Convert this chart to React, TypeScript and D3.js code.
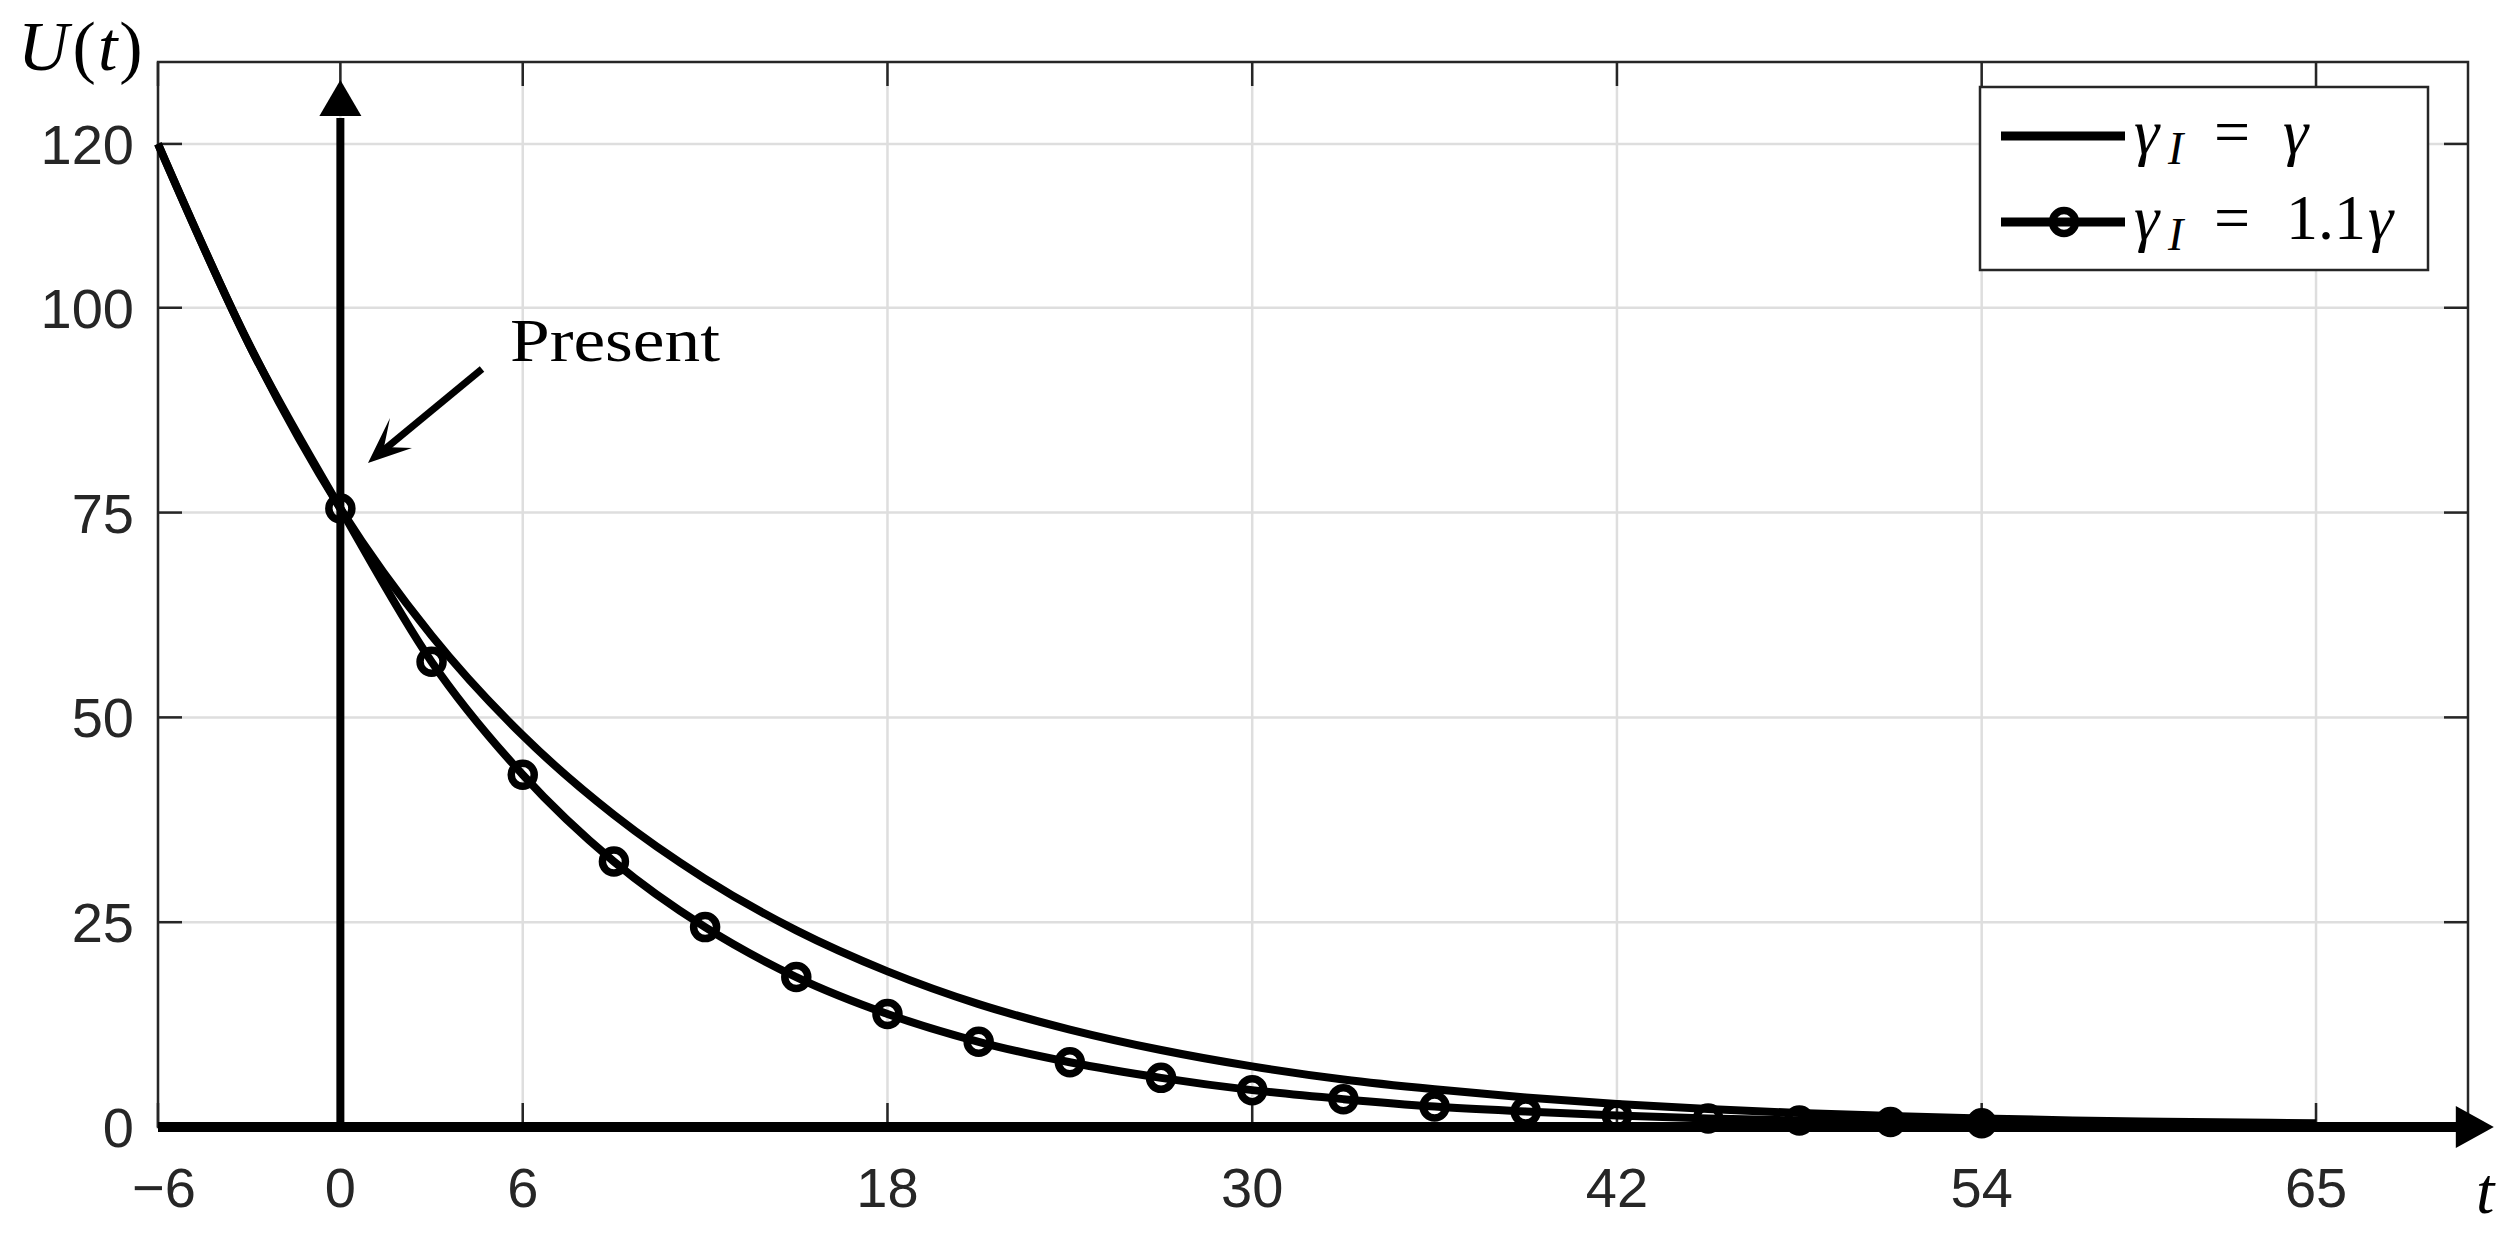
import React from "react";
import * as d3 from "d3";

const W = 2519;
const H = 1238;

// axis configuration (values)
const xDomain = [-6, 70];
const yDomain = [0, 130];
const xTicks = [-6, 0, 6, 18, 30, 42, 54, 65];
const yTicks = [0, 25, 50, 75, 100, 120];
const xTickLabels = ["\u22126", "0", "6", "18", "30", "42", "54", "65"];
const yTickLabels = ["0", "25", "50", "75", "100", "120"];

// series: gamma_I = gamma
const tUpper = [-6, -3, 0, 3, 6, 9, 12, 15, 18, 21, 24, 27, 30, 33, 36, 39, 42, 45, 48, 51, 54, 57, 60, 65];
const uUpper = [120, 95.5, 75.5, 60.0, 47.8, 38.1, 30.3, 24.0, 19.0, 15.0, 11.9, 9.4, 7.4, 5.8, 4.6, 3.6, 2.8, 2.2, 1.7, 1.35, 1.05, 0.8, 0.65, 0.45];

// series: gamma_I = 1.1 gamma
const tLower = [-6, -3, 0, 3, 6, 9, 12, 15, 18, 21, 24, 27, 30, 33, 36, 39, 42, 45, 48, 51, 54, 57, 60, 65];
const uLower = [120, 95.5, 75.5, 56.8, 43.0, 32.4, 24.4, 18.3, 13.8, 10.4, 7.9, 6.0, 4.5, 3.4, 2.5, 1.9, 1.4, 1.05, 0.8, 0.6, 0.45, 0.35, 0.25, 0.15];
const markerRange = [0, 54];

// axis arrows (data coords)
const upArrowTip = 127.8;
const upArrowBase = 123.4;
const rightArrowTip = 70.85;
const rightArrowBase = 69.6;

const AX = "#262626";
const GRID = "#dedede";

export default function App() {
  const x = d3.scaleLinear().domain(xDomain).range([158, 2468]);
  const y = d3.scaleLinear().domain(yDomain).range([1127, 62]);
  const [x0, x1] = x.range();
  const [yb, yt] = y.range();

  const line = d3
    .line<[number, number]>()
    .x((d) => x(d[0]))
    .y((d) => y(d[1]))
    .curve(d3.curveMonotoneX);

  const upper = tUpper.map((t, i) => [t, uUpper[i]] as [number, number]);
  const lower = tLower.map((t, i) => [t, uLower[i]] as [number, number]);
  const markers = lower.filter((d) => d[0] >= markerRange[0] && d[0] <= markerRange[1]);

  const tickLen = 24;
  const lw = 8;
  const legL = 1980, legT = 87, legR = 2428, legB = 270;
  const r1 = 136, r2 = 222;

  return (
    <svg
      width={W}
      height={H}
      viewBox={`0 0 ${W} ${H}`}
      style={{ position: "absolute", left: 0, top: 0, display: "block", background: "#fff" }}
    >
      <rect x={0} y={0} width={W} height={H} fill="#fff" />
      {/* grid */}
      <g stroke={GRID} strokeWidth={2.5}>
        {xTicks.map((t) => (
          <line key={"gx" + t} x1={x(t)} x2={x(t)} y1={yb} y2={yt} />
        ))}
        {yTicks.map((v) => (
          <line key={"gy" + v} x1={x0} x2={x1} y1={y(v)} y2={y(v)} />
        ))}
      </g>

      {/* frame + ticks */}
      <g stroke={AX} strokeWidth={2.5} fill="none">
        <rect x={x0} y={yt} width={x1 - x0} height={yb - yt} />
        {xTicks.map((t) => (
          <g key={"tx" + t}>
            <line x1={x(t)} x2={x(t)} y1={yb} y2={yb - tickLen} />
            <line x1={x(t)} x2={x(t)} y1={yt} y2={yt + tickLen} />
          </g>
        ))}
        {yTicks.map((v) => (
          <g key={"ty" + v}>
            <line x1={x0} x2={x0 + tickLen} y1={y(v)} y2={y(v)} />
            <line x1={x1} x2={x1 - tickLen} y1={y(v)} y2={y(v)} />
          </g>
        ))}
      </g>

      {/* tick labels */}
      <g fontFamily="'Liberation Sans', Arial, sans-serif" fontSize={56} fill={AX}>
        {xTicks.map((t, i) => (
          <text key={"lx" + t} x={x(t) + (t < 0 ? 6 : 0)} y={1207} textAnchor="middle">
            {xTickLabels[i]}
          </text>
        ))}
        {yTicks.map((v, i) => (
          <text key={"ly" + v} x={134} y={y(v) + 20} textAnchor="end">
            {yTickLabels[i]}
          </text>
        ))}
      </g>

      {/* curves */}
      <path d={line(upper) || ""} fill="none" stroke="#000" strokeWidth={lw} strokeLinejoin="round" />
      <path d={line(lower) || ""} fill="none" stroke="#000" strokeWidth={lw} strokeLinejoin="round" />
      {markers.map((d) => (
        <circle key={"m" + d[0]} cx={x(d[0])} cy={y(d[1])} r={11.5} fill="none" stroke="#000" strokeWidth={7.5} />
      ))}

      {/* axis arrows */}
      <line x1={x(0)} x2={x(0)} y1={y(0)} y2={y(upArrowBase) + 2} stroke="#000" strokeWidth={8} />
      <polygon
        points={`${x(0)},${y(upArrowTip)} ${x(0) - 21},${y(upArrowBase)} ${x(0) + 21},${y(upArrowBase)}`}
        fill="#000"
      />
      <line x1={x(-6)} x2={x(rightArrowBase) + 2} y1={y(0)} y2={y(0)} stroke="#000" strokeWidth={10} />
      <polygon
        points={`${x(rightArrowTip)},${y(0)} ${x(rightArrowBase)},${y(0) - 21} ${x(rightArrowBase)},${y(0) + 21}`}
        fill="#000"
      />

      {/* Present annotation */}
      <line x1={482} y1={369} x2={385} y2={449} stroke="#000" strokeWidth={7} />
      <polygon points="368,463 390,418 384,447 412,448" fill="#000" />
      <text
        x={510}
        y={361}
        fontFamily="'Liberation Serif', 'DejaVu Serif', serif"
        fontSize={62}
        textLength={210}
        lengthAdjust="spacingAndGlyphs"
        fill="#000"
      >
        Present
      </text>

      {/* axis labels */}
      <text x={18} y={70} fontFamily="'Liberation Serif', serif" fontSize={70} fill="#000">
        <tspan fontStyle="italic">U</tspan>
        <tspan dx={4}>(</tspan>
        <tspan fontStyle="italic" dx={2}>t</tspan>
        <tspan dx={2}>)</tspan>
      </text>
      <text x={2476} y={1213} fontFamily="'Liberation Serif', serif" fontStyle="italic" fontSize={66} fill="#000">
        t
      </text>

      {/* legend */}
      <rect x={legL} y={legT} width={legR - legL} height={legB - legT} fill="#fff" stroke={AX} strokeWidth={2.5} />
      <line x1={2001} x2={2125} y1={r1} y2={r1} stroke="#000" strokeWidth={9} />
      <line x1={2001} x2={2125} y1={r2} y2={r2} stroke="#000" strokeWidth={9} />
      <circle cx={2064} cy={r2} r={11.5} fill="none" stroke="#000" strokeWidth={7.5} />
      <g fontFamily="'Liberation Serif', serif" fontSize={64} fill="#000">
        <text x={2134} y={153} fontStyle="italic">{"\u03b3"}</text>
        <text x={2168} y={164} fontStyle="italic" fontSize={46}>I</text>
        <text x={2214} y={153}>=</text>
        <text x={2283} y={153} fontStyle="italic">{"\u03b3"}</text>

        <text x={2134} y={239} fontStyle="italic">{"\u03b3"}</text>
        <text x={2168} y={250} fontStyle="italic" fontSize={46}>I</text>
        <text x={2214} y={239}>=</text>
        <text x={2286} y={239}>1.1</text>
        <text x={2368} y={239} fontStyle="italic">{"\u03b3"}</text>
      </g>
    </svg>
  );
}
